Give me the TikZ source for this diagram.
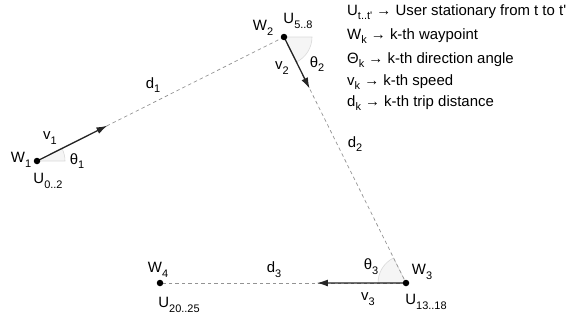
\documentclass[tikz,border=0pt]{standalone}
\usepackage{fontspec}
\setmainfont{Liberation Sans}
\usetikzlibrary{calc,arrows.meta}
\newcommand\sbx[1]{\raisebox{-0.6ex}{\fontsize{11}{12}\selectfont #1}}
\begin{document}
\begin{tikzpicture}[x=1bp,y=1bp,
  lbl/.style={font=\fontsize{15}{17}\selectfont, inner sep=0pt},
  leg/.style={font=\fontsize{15}{17}\selectfont, inner sep=0pt, anchor=west},
  dot/.style={circle,fill=black,inner sep=0pt,minimum size=6.5bp},
  trip/.style={draw=gray!85, dash pattern=on 3.5bp off 3bp, line width=0.7bp},
  vel/.style={draw=black!85, line width=1.3bp, -{Latex[length=11bp,width=7bp]}},
  ang/.style={fill=gray!8, draw=gray!30, line width=0.6bp}]
\useasboundingbox (0,0) rectangle (571,320);
% waypoints
\coordinate (p1) at (37,159);
\coordinate (p2) at (284,283);
\coordinate (p3) at (406,37);
\coordinate (p4) at (160,37);
% angle sectors
\filldraw[ang] (p1) -- ++(0:28) arc[start angle=0,end angle=26.7,radius=28] -- cycle;
\filldraw[ang] (p2) -- ++(-63.6:28) arc[start angle=-63.6,end angle=0,radius=28] -- cycle;
\filldraw[ang] (p3) -- ++(116.4:28) arc[start angle=116.4,end angle=180,radius=28] -- cycle;
% trips
\draw[trip] (p1) -- (p2);
\draw[trip] (p2) -- (p3);
\draw[trip] (p3) -- (p4);
% speeds
\coordinate (a1) at ($(p1)!0.285!(p2)$);
\coordinate (a2) at ($(p2)!0.21!(p3)$);
\coordinate (a3) at ($(p3)!0.362!(p4)$);
\draw[vel] (p1) -- (a1);
\draw[vel] (p2) -- (a2);
\draw[vel] (p3) -- (a3);
% dots
\node[dot] (w1) at (p1) {};
\node[dot] (w2) at (p2) {};
\node[dot] (w3) at (p3) {};
\node[dot] (w4) at (p4) {};
% labels
\node[lbl] (lw1) at (21,160) {W\sbx{1}};
\node[lbl] (lu1) at (48,139) {U\sbx{0..2}};
\node[lbl] (lv1) at (50,182) {v\sbx{1}};
\node[lbl] (lt1) at (77,159) {θ\sbx{1}};
\node[lbl] (ld1) at (153,235) {d\sbx{1}};
\node[lbl] (lw2) at (263,292) {W\sbx{2}};
\node[lbl] (lu2) at (298,299) {U\sbx{5..8}};
\node[lbl] (lv2) at (282,252) {v\sbx{2}};
\node[lbl] (lt2) at (317,256) {θ\sbx{2}};
\node[lbl] (ld2) at (355,176) {d\sbx{2}};
\node[lbl] (lt3) at (371,53) {θ\sbx{3}};
\node[lbl] (lw3) at (422,48) {W\sbx{3}};
\node[lbl] (lv3) at (368,21) {v\sbx{3}};
\node[lbl] (lu3) at (426,18) {U\sbx{13..18}};
\node[lbl] (lw4) at (158,50) {W\sbx{4}};
\node[lbl] (lu4) at (179,15) {U\sbx{20..25}};
\node[lbl] (ld3) at (274,50) {d\sbx{3}};
% legend
\node[leg] (g1) at (347,308) {U\sbx{t..t\textquotesingle} → User stationary from t to t\textquotesingle};
\node[leg] (g2) at (347,284) {W\sbx{k} → k-th waypoint};
\node[leg] (g3) at (347,260) {Θ\sbx{k} → k-th direction angle};
\node[leg] (g4) at (347,238) {v\sbx{k} → k-th speed};
\node[leg] (g5) at (347,217) {d\sbx{k} → k-th trip distance};
\end{tikzpicture}
\end{document}
